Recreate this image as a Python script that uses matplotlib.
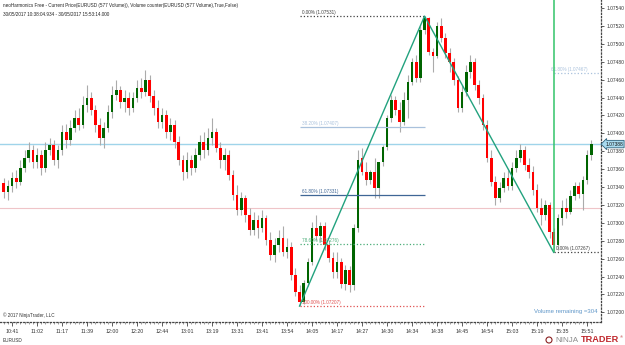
import matplotlib.pyplot as plt
import matplotlib.transforms as mtransforms
import numpy as np
from matplotlib.patches import Ellipse

plt.rcParams["font.family"] = ["Liberation Sans", "DejaVu Sans"]

# EURUSD 577-volume bars, prices in pipettes (1e-5)
opens = [107345, 107334, 107341, 107350, 107346, 107361, 107372, 107381, 107368, 107376,
         107361, 107381, 107387, 107370, 107381, 107402, 107393, 107406, 107417, 107409,
         107432, 107440, 107426, 107409, 107395, 107406, 107424, 107443, 107448, 107435,
         107440, 107428, 107440, 107451, 107446, 107460, 107442, 107428, 107413, 107421,
         107402, 107409, 107390, 107370, 107357, 107370, 107361, 107376, 107390, 107381,
         107395, 107402, 107384, 107370, 107376, 107353, 107331, 107314, 107328, 107309,
         107292, 107303, 107294, 107305, 107281, 107264, 107275, 107283, 107267, 107273,
         107242, 107223, 107212, 107233, 107256, 107294, 107285, 107297, 107275, 107261,
         107245, 107256, 107232, 107247, 107231, 107294, 107372, 107357, 107348, 107357,
         107339, 107368, 107385, 107417, 107437, 107426, 107413, 107437, 107457, 107480,
         107462, 107515, 107529, 107491, 107486, 107520, 107507, 107490, 107480, 107460,
         107428, 107446, 107469, 107480, 107454, 107440, 107409, 107372, 107346, 107328,
         107339, 107350, 107341, 107361, 107372, 107381, 107365, 107357, 107337, 107317,
         107309, 107320, 107290, 107275, 107305, 107317, 107312, 107330, 107341, 107332,
         107348, 107376]
highs = [107350, 107348, 107357, 107359, 107370, 107381, 107390, 107387, 107384, 107381,
         107390, 107395, 107393, 107387, 107409, 107410, 107415, 107426, 107428, 107442,
         107454, 107446, 107432, 107417, 107413, 107432, 107453, 107460, 107453, 107448,
         107446, 107446, 107460, 107462, 107471, 107465, 107448, 107437, 107428, 107426,
         107417, 107415, 107397, 107376, 107379, 107376, 107384, 107398, 107402, 107406,
         107417, 107406, 107390, 107384, 107381, 107359, 107342, 107334, 107331, 107317,
         107312, 107309, 107314, 107309, 107290, 107283, 107292, 107297, 107283, 107279,
         107250, 107231, 107236, 107261, 107301, 107309, 107301, 107301, 107281, 107267,
         107267, 107261, 107253, 107252, 107299, 107381, 107384, 107368, 107359, 107372,
         107368, 107387, 107421, 107443, 107442, 107435, 107446, 107465, 107484, 107488,
         107520, 107531, 107530, 107495, 107524, 107529, 107512, 107495, 107484, 107464,
         107454, 107476, 107488, 107484, 107460, 107444, 107415, 107381, 107352, 107346,
         107357, 107359, 107368, 107381, 107388, 107386, 107372, 107363, 107343, 107328,
         107325, 107323, 107294, 107310, 107325, 107328, 107337, 107346, 107346, 107352,
         107381, 107393]
lows = [107328, 107325, 107334, 107339, 107342, 107357, 107368, 107361, 107361, 107353,
        107357, 107376, 107365, 107361, 107376, 107384, 107387, 107402, 107404, 107406,
        107424, 107421, 107402, 107387, 107384, 107402, 107417, 107437, 107428, 107424,
        107421, 107424, 107435, 107440, 107442, 107435, 107421, 107406, 107406, 107395,
        107393, 107384, 107365, 107348, 107350, 107353, 107357, 107370, 107372, 107376,
        107387, 107379, 107361, 107359, 107348, 107325, 107309, 107309, 107301, 107286,
        107286, 107283, 107290, 107275, 107258, 107256, 107267, 107263, 107261, 107236,
        107218, 107207, 107209, 107229, 107253, 107281, 107279, 107270, 107256, 107238,
        107238, 107227, 107225, 107223, 107225, 107290, 107353, 107342, 107343, 107328,
        107328, 107363, 107381, 107413, 107421, 107402, 107409, 107417, 107454, 107457,
        107457, 107511, 107488, 107469, 107484, 107502, 107484, 107469, 107454, 107424,
        107424, 107442, 107462, 107448, 107433, 107404, 107368, 107341, 107320, 107323,
        107334, 107337, 107337, 107357, 107368, 107359, 107350, 107331, 107312, 107298,
        107303, 107283, 107267, 107270, 107298, 107305, 107310, 107325, 107328, 107314,
        107343, 107370]
closes = [107334, 107341, 107350, 107346, 107361, 107372, 107381, 107368, 107376, 107361,
          107381, 107387, 107370, 107381, 107402, 107393, 107406, 107417, 107409, 107432,
          107440, 107426, 107409, 107395, 107406, 107424, 107443, 107448, 107435, 107440,
          107428, 107440, 107451, 107446, 107460, 107442, 107428, 107413, 107421, 107402,
          107409, 107390, 107370, 107357, 107370, 107361, 107376, 107390, 107381, 107395,
          107402, 107384, 107370, 107376, 107353, 107331, 107314, 107328, 107309, 107292,
          107303, 107294, 107305, 107281, 107264, 107275, 107283, 107267, 107273, 107242,
          107223, 107212, 107233, 107256, 107294, 107285, 107297, 107275, 107261, 107245,
          107256, 107232, 107247, 107231, 107294, 107370, 107357, 107348, 107357, 107339,
          107368, 107385, 107417, 107437, 107426, 107413, 107437, 107457, 107480, 107462,
          107515, 107529, 107491, 107486, 107520, 107507, 107490, 107480, 107460, 107428,
          107446, 107469, 107480, 107454, 107440, 107409, 107372, 107346, 107328, 107339,
          107350, 107341, 107361, 107372, 107381, 107365, 107357, 107337, 107317, 107309,
          107320, 107290, 107275, 107305, 107317, 107312, 107330, 107341, 107332, 107348,
          107376, 107388]

time_labels = ["10:41", "11:02", "11:17", "11:39", "12:00", "12:20", "12:44", "13:01",
               "13:19", "13:31", "13:41", "13:54", "14:05", "14:17", "14:27", "14:30",
               "14:34", "14:38", "14:45", "14:54", "15:03", "15:19", "15:35", "15:51"]
time_label_bars = list(range(2, 142, 6))

# neoHarmonics swing points (bar index, price)
swing_bars = [71, 101, 132]
swing_prices = [1.07207, 1.07531, 1.07267]
retr_ratios = [0.0, 0.382, 0.618, 0.786, 1.0]
retr_colors = ["#404040", "#a9c1dc", "#3f6696", "#4aad78", "#e05050"]
retr_styles = [":", "-", "-", ":", ":"]
ext_ratios = [0.0, 0.618]
ext_colors = ["#404040", "#a9c1dc"]
current_price = 1.07388
ref_price = 1.07317
volume_remaining = 304

header = ["neoHarmonics Free - Current Price(EURUSD (577 Volume)), Volume counter(EURUSD (577 Volume),True,False)",
          "30/05/2017 10:38:04.934 - 30/05/2017 15:53:14.000"]

W, H = 625, 345
fig = plt.figure(figsize=(W / 100, H / 100), dpi=100)
ax = fig.add_axes([0, 23 / H, 601 / W, 322 / H])

o = np.array(opens) / 1e5
hi = np.array(highs) / 1e5
lo = np.array(lows) / 1e5
c = np.array(closes) / 1e5
x = np.arange(len(c))
up = c >= o

ax.axhline(current_price, color="#9fd4ea", lw=1.0, zorder=1)
ax.axhline(ref_price, color="#efc4c8", lw=0.8, zorder=1)

ax.vlines(x, lo, hi, color="#ababab", lw=0.8, zorder=2)
ax.bar(x[up], (c - o)[up], bottom=o[up], width=0.62, color="#006400", zorder=3)
ax.bar(x[~up], (c - o)[~up], bottom=o[~up], width=0.62, color="#ff0000", zorder=3)

# retracement of the low -> high swing
lo_p, hi_p, c_p = swing_prices
for r, col, ls in zip(retr_ratios, retr_colors, retr_styles):
    lvl = hi_p - r * (hi_p - lo_p)
    ax.hlines(lvl, swing_bars[0], swing_bars[1], color=col, lw=0.9, linestyles=ls, zorder=4)
    ax.text(swing_bars[0] + 0.6, lvl + 0.000012, f"{r * 100:.2f}% ({lvl:.5f})",
            color=col, fontsize=3.3, va="bottom", ha="left", zorder=4)

# projection from the second low
for r, col in zip(ext_ratios, ext_colors):
    lvl = c_p + r * (hi_p - lo_p)
    ax.hlines(lvl, swing_bars[2], x[-1] + 2.2, color=col, lw=0.9, linestyles=":", zorder=4)
    ax.text(swing_bars[2] - (0.6 if r else -0.6), lvl + 0.000012, f"{r * 100:.2f}% ({lvl:.5f})",
            color=col, fontsize=3.3, va="bottom", ha="left", zorder=4)

ax.plot(swing_bars, swing_prices, color="#22a27e", lw=1.0, zorder=5)
ax.vlines(swing_bars[2], c_p, 1.07549, color="#33c46a", lw=1.1, zorder=6)

ax.set_xlim(-0.89, 143.35)
ax.set_ylim(1.071892, 1.07549)

ax.set_xticks(time_label_bars)
ax.set_xticklabels(time_labels)
ax.set_xticks(x, minor=True)
ax.yaxis.tick_right()
price_ticks = np.round(np.arange(1.0720, 1.07541, 0.0002), 4)
ax.set_yticks(price_ticks)
ax.set_yticklabels([f"{p:.5f}" for p in price_ticks])

for s in ["top", "left"]:
    ax.spines[s].set_visible(False)
for s in ["right", "bottom"]:
    ax.spines[s].set_linestyle(":")
    ax.spines[s].set_color("#444444")
    ax.spines[s].set_linewidth(0.9)
ax.tick_params(axis="x", which="major", length=3, width=0.6, color="#444444",
               labelsize=3.8, pad=2, labelcolor="#333333")
ax.tick_params(axis="x", which="minor", length=1.2, width=0.5, color="#777777")
ax.tick_params(axis="y", length=2, width=0.6, color="#444444", labelsize=3.5,
               pad=2, labelcolor="#333333")

# current price marker on the price scale
trans = mtransforms.blended_transform_factory(ax.transAxes, ax.transData)
ax.text(614 / 601, current_price, f"{current_price:.5f}", transform=trans, ha="center",
        va="center", fontsize=3.5, color="#111111", clip_on=False, zorder=10,
        bbox=dict(boxstyle="larrow,pad=0.25", fc="#a9dbef", ec="#2b5f7a", lw=0.6))

fig.text(3 / W, 1 - 6 / H, header[0], fontsize=3.3, va="center", color="#222222")
fig.text(3 / W, 1 - 15 / H, header[1], fontsize=3.3, va="center", color="#222222")
fig.text(3 / W, 1 - 315 / H, "\u00a9 2017 NinjaTrader, LLC", fontsize=3.3, va="center", color="#333333")
fig.text(3 / W, 1 - 341 / H, "EURUSD", fontsize=3.4, va="center", color="#333333")
fig.text(598 / W, 1 - 311 / H, f"Volume remaining ={volume_remaining}", fontsize=4.3,
         va="center", ha="right", color="#5f96c8")

# NinjaTrader logo
fig.add_artist(Ellipse((549 / W, 1 - 340 / H), 6 / W, 6 / H, fc="none", ec="#8a2020", lw=0.8))
fig.text(555 / W, 1 - 340 / H, "NINJA", fontsize=5.8, va="center", color="#8c8c8c")
fig.text(581 / W, 1 - 340 / H, "TRADER", fontsize=6.6, va="center", color="#c0282d", fontweight="bold")
fig.text(620 / W, 1 - 337 / H, "\u00ae", fontsize=3, va="center", color="#c0282d")

fig.savefig("out.png", dpi=100)
